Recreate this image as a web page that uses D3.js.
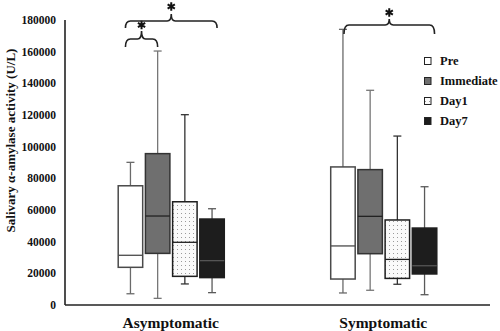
<!DOCTYPE html>
<html>
<head>
<meta charset="utf-8">
<script src="https://cdn.jsdelivr.net/npm/d3@7"></script>
<style>
  body { margin: 0; background: #fff; }
  svg text { font-family: "Liberation Serif", "Times New Roman", serif; font-weight: bold; fill: #111; }
</style>
</head>
<body>
<div id="chart"></div>
<script>
// groups and time points
const groups = ["Asymptomatic", "Symptomatic"];
const times = ["Pre", "Immediate", "Day1", "Day7"];
const yTicks = [0, 20000, 40000, 60000, 80000, 100000, 120000, 140000, 160000, 180000];

// box stats: [min, q1, median, q3, max]
const asymStats = [
  [7100, 23800, 31400, 75300, 90100],
  [4200, 32600, 56200, 95600, 160400],
  [13300, 18100, 39600, 65200, 120200],
  [7800, 17300, 28000, 54300, 60800]
];
const sympStats = [
  [7600, 16400, 37300, 87200, 174100],
  [9300, 32400, 56000, 85500, 135600],
  [13100, 16800, 28800, 53700, 106700],
  [6500, 19600, 24800, 48600, 74700]
];

// significance braces: group, from time, to time
const braces = [
  ["Asymptomatic", "Pre", "Immediate"],
  ["Asymptomatic", "Pre", "Day7"],
  ["Symptomatic", "Pre", "Day7"]
];

const W = 500, H = 331;
const svg = d3.select("#chart").append("svg")
  .attr("width", W).attr("height", H);

const defs = svg.append("defs");
const pat = defs.append("pattern")
  .attr("id", "dots")
  .attr("patternUnits", "userSpaceOnUse")
  .attr("width", 4).attr("height", 4);
pat.append("rect").attr("width", 4).attr("height", 4).attr("fill", "#fafafa");
pat.append("rect").attr("x", 1).attr("y", 1).attr("width", 1).attr("height", 1).attr("fill", "#9a9a9a");

const styles = {
  Pre:       {fill: "#ffffff", stroke: "#4a4a4a", whisker: "#6a6a6a", median: "#4a4a4a"},
  Immediate: {fill: "#6f6f6f", stroke: "#333333", whisker: "#777777", median: "#222222"},
  Day1:      {fill: "url(#dots)", stroke: "#1e1e1e", whisker: "#333333", median: "#1e1e1e"},
  Day7:      {fill: "#1d1d1d", stroke: "#1d1d1d", whisker: "#5a5a5a", median: "#555555"}
};

const x = d3.scaleBand().domain(groups).range([65, 490]).padding(0);
const sub = d3.scaleBand().domain(times).range([-54.4, 54.4])
  .paddingInner(0.1).paddingOuter(0.05);
const y = d3.scaleLinear().domain([0, 180000]).range([305, 20]);

// axes
svg.append("line").attr("x1", 65).attr("x2", 65)
  .attr("y1", y(180000)).attr("y2", y(0))
  .attr("stroke", "#222").attr("stroke-width", 1.6);
svg.append("line").attr("x1", 65).attr("x2", 490)
  .attr("y1", y(0)).attr("y2", y(0))
  .attr("stroke", "#222").attr("stroke-width", 1.6);

svg.selectAll(".ytick").data(yTicks).enter().append("text")
  .attr("class", "ytick")
  .attr("x", 56).attr("y", d => y(d))
  .attr("dy", "0.35em")
  .attr("text-anchor", "end")
  .attr("font-size", 11.5)
  .text(d => d);

svg.append("text")
  .attr("transform", `translate(15,${(y(0) + y(180000)) / 2 - 22}) rotate(-90)`)
  .attr("text-anchor", "middle")
  .attr("font-size", 13)
  .text("Salivary α-amylase activity (U/L)");

svg.selectAll(".xlab").data(groups).enter().append("text")
  .attr("class", "xlab")
  .attr("x", d => x(d) + x.bandwidth() / 2 - 0.5)
  .attr("y", 328)
  .attr("text-anchor", "middle")
  .attr("font-size", 15.5)
  .text(d => d);

// boxes
const allStats = {Asymptomatic: asymStats, Symptomatic: sympStats};
const bw = sub.bandwidth();
const cx = (g, t) => x(g) + x.bandwidth() / 2 + sub(t) + bw / 2;

groups.forEach(g => {
  allStats[g].forEach((s, i) => {
    const t = times[i], st = styles[t];
    const c = cx(g, t);
    const gg = svg.append("g");
    // whiskers
    gg.append("line").attr("x1", c).attr("x2", c)
      .attr("y1", y(s[4])).attr("y2", y(s[3]))
      .attr("stroke", st.whisker).attr("stroke-width", 1.3);
    gg.append("line").attr("x1", c).attr("x2", c)
      .attr("y1", y(s[1])).attr("y2", y(s[0]))
      .attr("stroke", st.whisker).attr("stroke-width", 1.3);
    [s[0], s[4]].forEach(v => {
      gg.append("line").attr("x1", c - 4).attr("x2", c + 4)
        .attr("y1", y(v)).attr("y2", y(v))
        .attr("stroke", st.whisker).attr("stroke-width", 1.3);
    });
    gg.append("rect")
      .attr("x", c - bw / 2).attr("width", bw)
      .attr("y", y(s[3])).attr("height", y(s[1]) - y(s[3]))
      .attr("fill", st.fill).attr("stroke", st.stroke).attr("stroke-width", 1.5);
    gg.append("line").attr("x1", c - bw / 2).attr("x2", c + bw / 2)
      .attr("y1", y(s[2])).attr("y2", y(s[2]))
      .attr("stroke", st.median).attr("stroke-width", 1.3);
  });
});

// braces with asterisks
const braceLevels = [
  {yh: 39, yend: 47, ypeak: 31, ystar: 25, dl: -5, dr: 0},
  {yh: 21, yend: 28, ypeak: 14, ystar: 6.5, dl: -5, dr: 5},
  {yh: 25, yend: 34, ypeak: 19, ystar: 12.5, dl: 1, dr: 10}
];
braces.forEach((b, i) => {
  const L = braceLevels[i];
  const x1 = cx(b[0], b[1]) + L.dl, x2 = cx(b[0], b[2]) + L.dr;
  const xm = (x1 + x2) / 2;
  const p = d3.path();
  p.moveTo(x1, L.yend);
  p.quadraticCurveTo(x1, L.yh, x1 + 5, L.yh);
  p.lineTo(xm - 4, L.yh);
  p.quadraticCurveTo(xm, L.yh, xm, L.ypeak);
  p.quadraticCurveTo(xm, L.yh, xm + 4, L.yh);
  p.lineTo(x2 - 5, L.yh);
  p.quadraticCurveTo(x2, L.yh, x2, L.yend);
  svg.append("path").attr("d", p.toString())
    .attr("fill", "none").attr("stroke", "#222").attr("stroke-width", 1.6);

  // asterisk drawn as three crossed strokes
  const r = 4.2;
  const a = d3.path();
  [90, 30, -30].forEach(deg => {
    const rad = deg * Math.PI / 180;
    a.moveTo(xm - r * Math.cos(rad), L.ystar - r * Math.sin(rad));
    a.lineTo(xm + r * Math.cos(rad), L.ystar + r * Math.sin(rad));
  });
  svg.append("path").attr("d", a.toString())
    .attr("stroke", "#111").attr("stroke-width", 2).attr("fill", "none");
});

// legend
const leg = svg.append("g").attr("transform", "translate(424,0)");
const legY = d3.scalePoint().domain(times).range([61, 121]);
times.forEach(t => {
  const st = styles[t];
  leg.append("rect")
    .attr("x", 0.5).attr("y", legY(t) - 3.5)
    .attr("width", 6.5).attr("height", 7)
    .attr("fill", st.fill).attr("stroke", "#222").attr("stroke-width", 1);
  leg.append("text")
    .attr("x", 16).attr("y", legY(t))
    .attr("dy", "0.35em")
    .attr("font-size", 12.5)
    .text(t);
});
</script>
</body>
</html>
